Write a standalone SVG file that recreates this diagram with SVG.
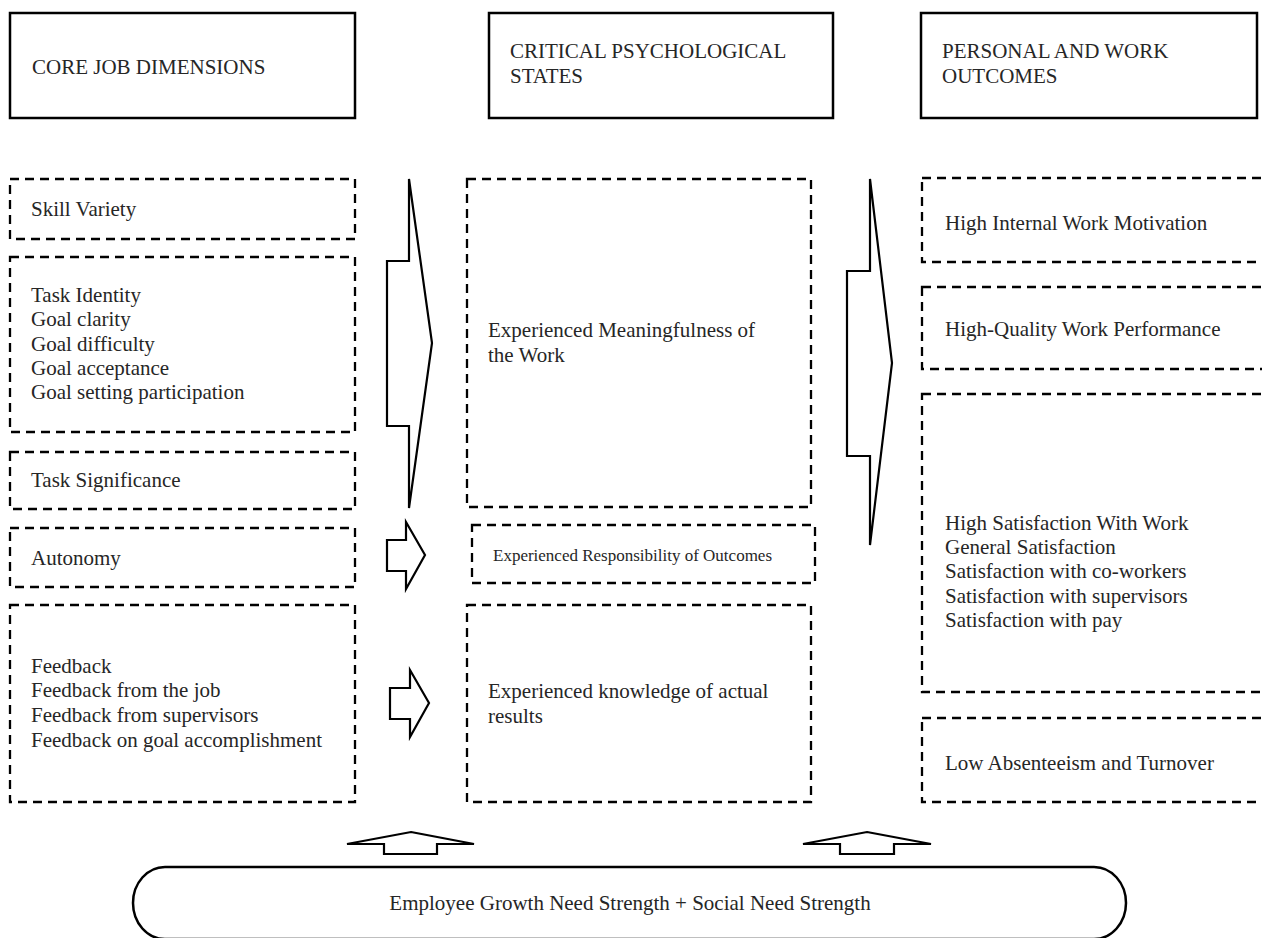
<svg xmlns="http://www.w3.org/2000/svg" width="1262" height="938" viewBox="0 0 1262 938">
<style>
text{font-family:"Liberation Serif","Times New Roman",serif;font-size:21px;fill:#262626}
.small{font-size:17px}
.solid{fill:#fff;stroke:#000;stroke-width:2.5}
.dash{fill:#fff;stroke:#000;stroke-width:2.3;stroke-dasharray:9 6}
.arrow{fill:#fff;stroke:#000;stroke-width:2.2;stroke-linejoin:miter}
</style>
<rect width="1262" height="938" fill="#fff"/>
<g id="header-core">
<rect class="solid" x="10" y="13" width="345" height="105"/>
<text x="32" y="74">CORE JOB DIMENSIONS</text>
</g>
<g id="header-critical">
<rect class="solid" x="489" y="13" width="344" height="105"/>
<text x="510" y="58">CRITICAL PSYCHOLOGICAL</text>
<text x="510" y="83">STATES</text>
</g>
<g id="header-outcomes">
<rect class="solid" x="921" y="13" width="336" height="105"/>
<text x="942" y="58">PERSONAL AND WORK</text>
<text x="942" y="83">OUTCOMES</text>
</g>
<g id="skill-variety">
<rect class="dash" x="10" y="179" width="345" height="60"/>
<text x="31" y="216">Skill Variety</text>
</g>
<g id="task-identity">
<rect class="dash" x="10" y="257" width="345" height="175"/>
<text x="31" y="302">Task Identity</text>
<text x="31" y="326">Goal clarity</text>
<text x="31" y="351">Goal difficulty</text>
<text x="31" y="375">Goal acceptance</text>
<text x="31" y="399">Goal setting participation</text>
</g>
<g id="task-significance">
<rect class="dash" x="10" y="452" width="345" height="57"/>
<text x="31" y="487">Task Significance</text>
</g>
<g id="autonomy">
<rect class="dash" x="10" y="528" width="345" height="59"/>
<text x="31" y="565">Autonomy</text>
</g>
<g id="feedback">
<rect class="dash" x="10" y="605" width="345" height="197"/>
<text x="31" y="673">Feedback</text>
<text x="31" y="697">Feedback from the job</text>
<text x="31" y="722">Feedback from supervisors</text>
<text x="31" y="747">Feedback on goal accomplishment</text>
</g>
<g id="meaningfulness">
<rect class="dash" x="467" y="179" width="344" height="328"/>
<text x="488" y="337">Experienced Meaningfulness of</text>
<text x="488" y="362">the Work</text>
</g>
<g id="responsibility">
<rect class="dash" x="472" y="525" width="343" height="58"/>
<text class="small" x="493" y="561">Experienced Responsibility of Outcomes</text>
</g>
<g id="knowledge">
<rect class="dash" x="467" y="605" width="344" height="197"/>
<text x="488" y="698">Experienced knowledge of actual</text>
<text x="488" y="723">results</text>
</g>
<g id="motivation">
<rect class="dash" x="922" y="178" width="350" height="84"/>
<text x="945" y="230">High Internal Work Motivation</text>
</g>
<g id="performance">
<rect class="dash" x="922" y="287" width="350" height="82"/>
<text x="945" y="336">High-Quality Work Performance</text>
</g>
<g id="satisfaction">
<rect class="dash" x="922" y="394" width="350" height="298"/>
<text x="945" y="530">High Satisfaction With Work</text>
<text x="945" y="554">General Satisfaction</text>
<text x="945" y="578">Satisfaction with co-workers</text>
<text x="945" y="603">Satisfaction with supervisors</text>
<text x="945" y="627">Satisfaction with pay</text>
</g>
<g id="absenteeism">
<rect class="dash" x="922" y="718" width="350" height="84"/>
<text x="945" y="770">Low Absenteeism and Turnover</text>
</g>
<g id="growth-need">
<rect class="solid" x="133" y="867" width="993" height="72" rx="32" ry="36"/>
<text x="630" y="910" text-anchor="middle">Employee Growth Need Strength + Social Need Strength</text>
</g>
<g id="connectors">
<polygon class="arrow" points="409,179 432,343 409,508 409,426 387,426 387,261 409,261"/>
<polygon class="arrow" points="870,179 892,363 870,545 870,456 847,456 847,271 870,271"/>
<polygon class="arrow" points="406,522 425,555 406,589 406,571 387,571 387,540 406,540"/>
<polygon class="arrow" points="410,670 429,703 410,737 410,719 390,719 390,688 410,688"/>
<polygon class="arrow" points="411,832 474,844 437,844 437,854 384,854 384,844 347,844"/>
<polygon class="arrow" points="867,832 931,844 894,844 894,854 840,854 840,844 803,844"/>
</g>
</svg>
